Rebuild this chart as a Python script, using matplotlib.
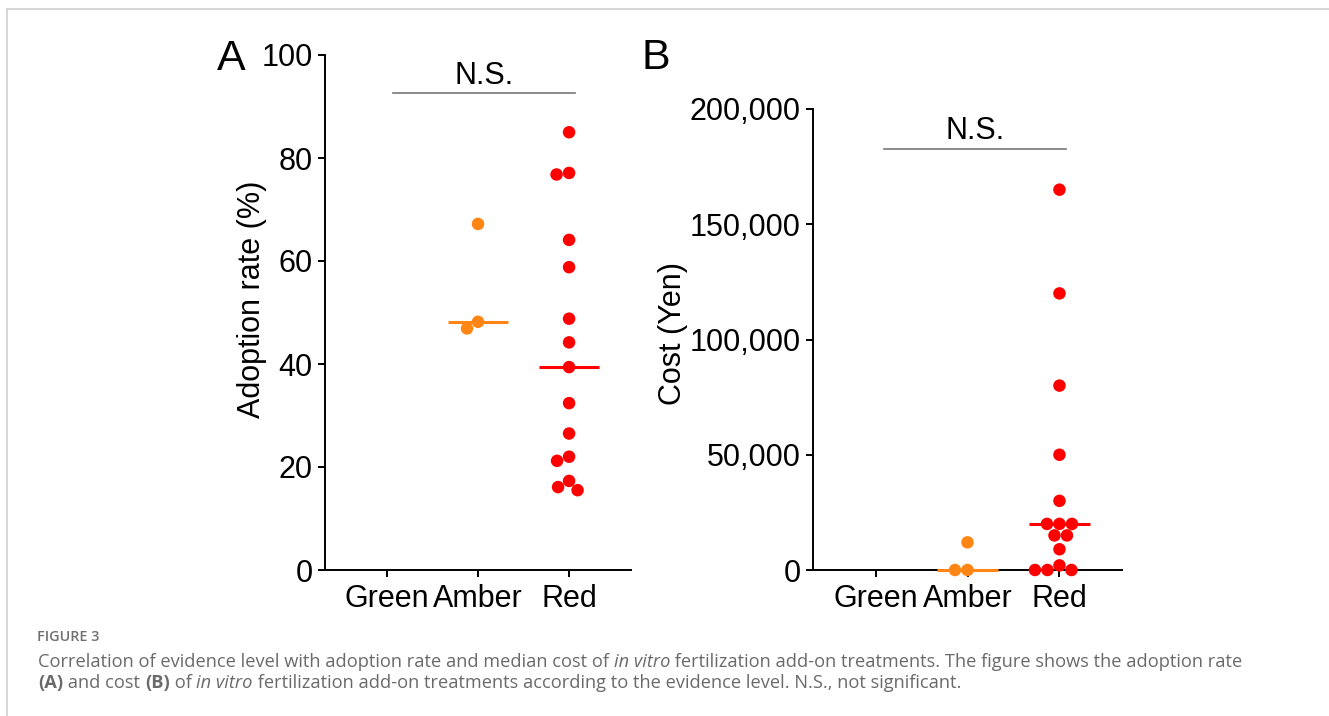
"""
Figure 3: adoption rate and cost of IVF add-on treatments by evidence level.
"""

import numpy as np
import matplotlib
matplotlib.use("Agg")
import matplotlib.pyplot as plt
from matplotlib.ticker import FuncFormatter


# ─────────────────────────────────────────────
# DATA
# ─────────────────────────────────────────────

CATEGORIES	= ["Green", "Amber", "Red"]

ADOPT_GREEN	= []
ADOPT_AMBER	= [67.2, 48.2, 46.9]
ADOPT_RED	= [85.0, 77.1, 76.8, 64.1, 58.8, 48.8, 44.2, 39.4, 32.4, 26.5, 22.0, 21.2, 17.3, 16.1, 15.5]

COST_GREEN	= []
COST_AMBER	= [12000, 0, 0]
COST_RED	= [165000, 120000, 80000, 50000, 30000, 20000, 20000, 20000,
		   15000, 15000, 9000, 2000, 0, 0, 0]

ADOPT_TICKS	= [0, 20, 40, 60, 80, 100]
COST_TICKS	= [0, 50000, 100000, 150000, 200000]

COLORS		= {"Green": "#2ca02c", "Amber": "#ff8614", "Red": "#ff0000"}

FONT		= ["Liberation Sans", "DejaVu Sans"]
CAP_FONT	= ["Open Sans", "DejaVu Sans"]
LABEL_SIZE	= 22


# ─────────────────────────────────────────────
# Helpers
# ─────────────────────────────────────────────

def swarm_x(ax, xc, values, diam):
	"""Beeswarm offsets computed in pixel space, returned in data coords."""
	trans = ax.transData
	px_x = trans.transform((1, 0))[0] - trans.transform((0, 0))[0]
	ys = [trans.transform((xc, v))[1] for v in values]
	order = sorted(range(len(values)), key=lambda i: -values[i])
	cands = [0.0]
	for k in range(1, 200):
		cands += [-0.5*k, 0.5*k]
	placed = []
	out = [xc]*len(values)
	for i in order:
		for c in cands:
			if all((c - dx)**2 + (ys[i] - py)**2 >= diam**2 for dx, py in placed):
				placed.append((c, ys[i]))
				out[i] = xc + c/px_x
				break
	return out


def style_axes(ax):
	for side in ("top", "right"):
		ax.spines[side].set_visible(False)
	for side in ("left", "bottom"):
		ax.spines[side].set_linewidth(1.4)
	ax.tick_params(width=1.4, length=5, labelsize=LABEL_SIZE)
	ax.tick_params(axis="y", pad=4)
	ax.tick_params(axis="x", pad=5)
	for lab in ax.get_xticklabels() + ax.get_yticklabels():
		lab.set_family(FONT)


def draw_panel(ax, groups, diam=12.5, half=0.33):
	for xc, (name, vals) in enumerate(groups):
		if not vals:
			continue
		xs = swarm_x(ax, xc, vals, diam)
		med = np.median(vals)
		ax.plot([xc - half, xc + half], [med, med], color=COLORS[name], lw=2.2,
			zorder=4, solid_capstyle="butt", clip_on=False)
		ax.scatter(xs, vals, s=(diam*0.72)**2, color=COLORS[name], edgecolors="none",
			zorder=5, clip_on=False)


def rich_line(fig, x, y, parts, size, color):
	"""Draw a line of text made of (string, style, weight) pieces."""
	renderer = fig.canvas.get_renderer()
	for s, st, wt in parts:
		t = fig.text(x, y, s, fontsize=size, color=color, family=CAP_FONT,
			style=st, weight=wt, transform=None, va="baseline")
		x += t.get_window_extent(renderer).width


# ─────────────────────────────────────────────
# Plotting
# ─────────────────────────────────────────────

W, H = 1329, 716
fig = plt.figure(figsize=(W/100, H/100), dpi=100)

# frame lines of the page
fig.add_artist(plt.Line2D([7/W, 1], [1 - 9/H, 1 - 9/H], color="#d0d0d0", lw=1.2, transform=fig.transFigure))
fig.add_artist(plt.Line2D([7/W, 7/W], [0, 1 - 9/H], color="#d0d0d0", lw=1.2, transform=fig.transFigure))

# ── A ──
ax_a = fig.add_axes([325/W, 1 - 570/H, 306/W, 515/H])
ax_a.set_xlim(-0.68, 2.68)
ax_a.set_ylim(0, 100)
ax_a.set_yticks(ADOPT_TICKS)
ax_a.set_xticks(range(len(CATEGORIES)))
ax_a.set_xticklabels(CATEGORIES)
style_axes(ax_a)
ax_a.set_ylabel("Adoption rate (%)", fontsize=LABEL_SIZE, family=FONT)
ax_a.yaxis.set_label_coords(-0.19, 0.526)
draw_panel(ax_a, [("Green", ADOPT_GREEN), ("Amber", ADOPT_AMBER), ("Red", ADOPT_RED)])
ax_a.plot([0.07, 2.07], [92.6, 92.6], color="#777777", lw=1.2, clip_on=False)
ax_a.text(1.07, 94.4, "N.S.", ha="center", va="baseline", fontsize=LABEL_SIZE, family=FONT)

# ── B ──
ax_b = fig.add_axes([813/W, 1 - 570/H, 309/W, 461/H])
ax_b.set_xlim(-0.68, 2.68)
ax_b.set_ylim(0, 200000)
ax_b.set_yticks(COST_TICKS)
ax_b.yaxis.set_major_formatter(FuncFormatter(lambda v, p: f"{int(v):,}"))
ax_b.set_xticks(range(len(CATEGORIES)))
ax_b.set_xticklabels(CATEGORIES)
style_axes(ax_b)
ax_b.set_ylabel("Cost (Yen)", fontsize=LABEL_SIZE, family=FONT)
ax_b.yaxis.set_label_coords(-0.405, 0.514)
draw_panel(ax_b, [("Green", COST_GREEN), ("Amber", COST_AMBER), ("Red", COST_RED)])
ax_b.plot([0.09, 2.07], [182700, 182700], color="#777777", lw=1.2, clip_on=False)
ax_b.text(1.08, 187000, "N.S.", ha="center", va="baseline", fontsize=LABEL_SIZE, family=FONT)

# panel letters
fig.text(231/W, 1 - 59/H, "A", fontsize=31, family=FONT, ha="center", va="center")
fig.text(656/W, 1 - 58/H, "B", fontsize=31, family=FONT, ha="center", va="center")

# caption
fig.canvas.draw()
cap_col = "#6a6a6a"
fig.text(37, H - 641, "FIGURE 3", fontsize=10.4, weight="semibold", color="#707070",
	family=CAP_FONT, transform=None)
rich_line(fig, 38, H - 667, [
	("Correlation of evidence level with adoption rate and median cost of ", "normal", "normal"),
	("in vitro", "italic", "normal"),
	(" fertilization add-on treatments. The figure shows the adoption rate", "normal", "normal"),
], 13.15, cap_col)
rich_line(fig, 38, H - 688, [
	("(A)", "normal", "bold"),
	(" and cost ", "normal", "normal"),
	("(B)", "normal", "bold"),
	(" of ", "normal", "normal"),
	("in vitro", "italic", "normal"),
	(" fertilization add-on treatments according to the evidence level. N.S., not significant.", "normal", "normal"),
], 13.15, cap_col)

fig.savefig("out.png", dpi=100)
